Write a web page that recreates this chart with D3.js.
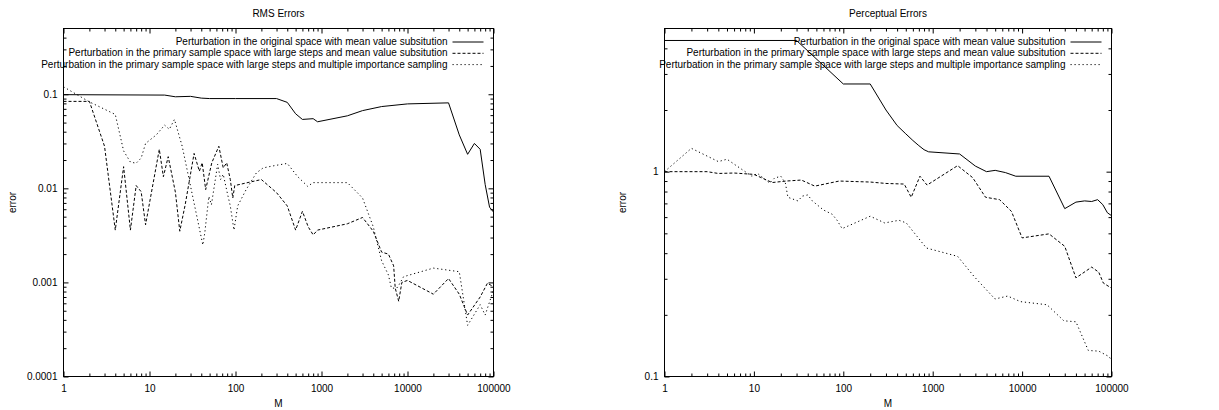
<!DOCTYPE html>
<html>
<head>
<meta charset="utf-8">
<script src="https://cdn.jsdelivr.net/npm/d3@7"></script>
<style>
	body{margin:0;background:#fff}
	svg{font-family:"Liberation Sans",Arial,sans-serif;font-size:10px}
</style>
</head>
<body>
<svg id="chart" width="1219" height="410"></svg>
<script>
const legendNames = [
	'Perturbation in the original space with mean value subsitution',
	'Perturbation in the primary sample space with large steps and mean value subsitution',
	'Perturbation in the primary sample space with large steps and multiple importance sampling'
]

const xTicks = [1,10,100,1000,10000,100000]
const xTickLabels = ['1','10','100','1000','10000','100000']

const rmsTicks = [0.0001,0.001,0.01,0.1]
const rmsTickLabels = ['0.0001','0.001','0.01','0.1']
const percTicks = [0.1,1]
const percTickLabels = ['0.1','1']

// [M, error]
const rmsOrig = [[1,0.099],[15,0.098],[20,0.094],[30,0.095],[40,0.091],[50,0.09],[100,0.09],[300,0.09],[400,0.082],[500,0.062],[600,0.054],[800,0.055],[900,0.051],[2000,0.059],[3000,0.067],[5000,0.074],[10000,0.079],[30000,0.081],[40000,0.037],[50000,0.023],[60000,0.03],[70000,0.026],[80000,0.011],[90000,0.0063],[100000,0.0056]]
const rmsLargeMean = [[1,0.084],[2,0.084],[3,0.028],[4,0.0036],[5,0.017],[6,0.0036],[7,0.0107],[8,0.0092],[9,0.0041],[13,0.026],[14.5,0.0133],[16.5,0.0217],[20,0.0091],[22.5,0.0035],[26,0.0067],[33,0.0235],[38,0.0152],[41,0.0187],[45,0.0097],[53,0.0187],[64,0.028],[72,0.0165],[79,0.0187],[87,0.0124],[93,0.0079],[98,0.0107],[150,0.0117],[200,0.0124],[300,0.009],[400,0.0065],[500,0.0036],[600,0.0057],[700,0.0039],[800,0.0032],[900,0.0036],[2000,0.0042],[3000,0.0049],[4000,0.0035],[5000,0.0021],[6000,0.002],[6900,0.0015],[7200,0.00087],[7900,0.00063],[8600,0.001],[10000,0.00105],[20000,0.00075],[30000,0.0011],[40000,0.00075],[50000,0.00045],[70000,0.0007],[85000,0.00098],[100000,0.0009]]
const rmsLargeMis = [[1,0.12],[2,0.083],[4,0.061],[5,0.025],[6,0.019],[7,0.0185],[8,0.021],[9,0.03],[12,0.037],[15,0.047],[17,0.0424],[19.5,0.054],[24,0.028],[41.7,0.0025],[44,0.0034],[49,0.0082],[52.5,0.0067],[62,0.018],[67,0.0124],[72,0.0141],[81,0.0086],[87,0.0065],[96,0.0036],[106,0.0065],[133,0.0097],[175,0.0146],[210,0.0165],[290,0.0175],[400,0.0184],[525,0.0134],[690,0.0105],[800,0.0115],[2000,0.0115],[3000,0.0079],[4000,0.0039],[5000,0.0017],[6000,0.0012],[6500,0.00087],[7500,0.00087],[8000,0.00095],[9000,0.00115],[20000,0.00142],[40000,0.0013],[50000,0.00035],[70000,0.00058],[80000,0.00045],[100000,0.00083]]

const percOrig = [[1,4.37],[30,4.37],[100,2.68],[200,2.68],[300,2.0],[400,1.68],[500,1.53],[600,1.42],[700,1.34],[800,1.28],[900,1.25],[2000,1.22],[3000,1.065],[4000,1.0],[5000,1.015],[6500,0.99],[8500,0.95],[20000,0.95],[30000,0.66],[40000,0.71],[50000,0.72],[60000,0.715],[70000,0.73],[80000,0.69],[90000,0.63],[100000,0.61]]
const percLargeMean = [[1,1.0],[3,1.0],[4,0.98],[6,0.985],[10,0.97],[16,0.885],[23,0.9],[34,0.91],[48,0.85],[90,0.9],[200,0.89],[300,0.876],[480,0.87],[575,0.75],[720,0.95],[865,0.86],[1900,1.07],[2800,0.935],[3900,0.75],[5600,0.73],[7600,0.64],[10000,0.475],[20000,0.497],[30000,0.432],[40000,0.303],[60000,0.342],[72000,0.323],[81000,0.286],[100000,0.27]]
const percLargeMis = [[1,1.0],[2,1.3],[4,1.12],[5,1.15],[7,1.04],[9.5,0.95],[11,0.98],[15,0.88],[17,0.93],[20,0.95],[22.5,0.88],[24,0.75],[31,0.72],[35,0.76],[40,0.77],[45,0.72],[60,0.65],[75,0.62],[85,0.58],[97,0.527],[200,0.606],[290,0.562],[420,0.579],[506,0.562],[850,0.424],[1900,0.386],[2900,0.308],[4970,0.239],[6900,0.247],[9600,0.232],[19000,0.224],[29300,0.187],[40000,0.185],[55000,0.134],[72000,0.133],[94000,0.125],[100000,0.12]]

const dashes = [null,'3,2','1.2,2.8']

const minorTicks = (lo,hi) => {
	const out = []
	for(let e = Math.floor(Math.log10(lo)); e <= Math.ceil(Math.log10(hi)); e++){
		for(let k = 2; k <= 9; k++){
			const v = k * Math.pow(10,e)
			if(v > lo * 1.0001 && v < hi * 0.9999) out.push(v)
		}
	}
	return out
}

const svg = d3.select('#chart')

const panel = (cfg) => {
	const [l,r,t,b] = cfg.box
	const x = d3.scaleLog().domain([1,100000]).range([l,r])
	const y = d3.scaleLog().domain(cfg.yDomain).range([b,t])
	const g = svg.append('g')

	g.append('text')
		.attr('x',(l + r) / 2).attr('y',17)
		.attr('text-anchor','middle')
		.text(cfg.title)

	const clipId = 'clip' + cfg.id
	g.append('clipPath').attr('id',clipId)
		.append('rect').attr('x',l).attr('y',t).attr('width',r - l).attr('height',b - t)

	// ticks, mirrored on all four sides, pointing inward
	const tickAxis = (axis,scale,vals,size,pos,labels) => {
		const a = axis(scale).tickValues(vals).tickSizeInner(size).tickSizeOuter(0)
			.tickPadding(pos === 'bottom' ? 8 : 6)
			.tickFormat(labels ? (d,i) => labels[i] : '')
		const tr = pos === 'bottom' ? `translate(0,${b})` : pos === 'top' ? `translate(0,${t})`
			: pos === 'left' ? `translate(${l},0)` : `translate(${r},0)`
		const ag = g.append('g').attr('transform',tr).call(a)
		ag.select('.domain').remove()
		ag.selectAll('line').attr('stroke','#000')
		ag.selectAll('text').attr('fill','#000').style('font-size','10px')
			.style('font-family','"Liberation Sans",Arial,sans-serif')
	}
	const yMinor = minorTicks(cfg.yDomain[0],cfg.yDomain[1])
	const xMinor = minorTicks(1,100000)
	tickAxis(d3.axisBottom,x,xTicks,-5,'bottom',xTickLabels)
	tickAxis(d3.axisBottom,x,xMinor,-3,'bottom')
	tickAxis(d3.axisTop,x,xTicks,-5,'top')
	tickAxis(d3.axisTop,x,xMinor,-3,'top')
	tickAxis(d3.axisLeft,y,cfg.yTicks,-5,'left',cfg.yLabels)
	tickAxis(d3.axisLeft,y,yMinor,-3,'left')
	tickAxis(d3.axisRight,y,cfg.yTicks,-5,'right')
	tickAxis(d3.axisRight,y,yMinor,-3,'right')

	const line = d3.line().x(d => x(d[0])).y(d => y(d[1]))

	g.append('g').attr('clip-path',`url(#${clipId})`)
		.selectAll('path')
		.data(cfg.series)
		.enter()
		.append('path')
		.attr('d',line)
		.attr('fill','none')
		.attr('stroke','#000')
		.attr('stroke-width',1)
		.attr('stroke-dasharray',(d,i) => dashes[i])

	g.append('rect')
		.attr('x',l).attr('y',t).attr('width',r - l).attr('height',b - t)
		.attr('fill','none').attr('stroke','#000')

	const legendG = g.selectAll('.legend')
		.data(legendNames)
		.enter()
		.append('g')
		.attr('transform',(d,i) => `translate(0,${41.5 + i * 11.3})`)
		.classed('legend',true)

	legendG.append('text')
		.attr('x',r - 46)
		.attr('y','0.35em')
		.attr('text-anchor','end')
		.text(d => d)

	legendG.append('line')
		.attr('x1',r - 41).attr('x2',r - 10)
		.attr('y1',0.5).attr('y2',0.5)
		.attr('stroke','#000')
		.attr('stroke-dasharray',(d,i) => dashes[i])

	g.append('text')
		.attr('transform',`translate(${cfg.yLabelX},${(t + b) / 2}) rotate(-90)`)
		.attr('text-anchor','middle')
		.attr('dy','0.35em')
		.text('error')

	g.append('text')
		.attr('x',(l + r) / 2).attr('y',407)
		.attr('text-anchor','middle')
		.text('M')
}

panel({
	id:'rms', title:'RMS Errors',
	box:[63.5,493.5,28.5,376.5],
	yDomain:[0.0001,0.5], yTicks:rmsTicks, yLabels:rmsTickLabels, yLabelX:12,
	series:[rmsOrig,rmsLargeMean,rmsLargeMis]
})

panel({
	id:'perc', title:'Perceptual Errors',
	box:[664.5,1111.5,28.5,376.5],
	yDomain:[0.1,5], yTicks:percTicks, yLabels:percTickLabels, yLabelX:622,
	series:[percOrig,percLargeMean,percLargeMis]
})
</script>
</body>
</html>
